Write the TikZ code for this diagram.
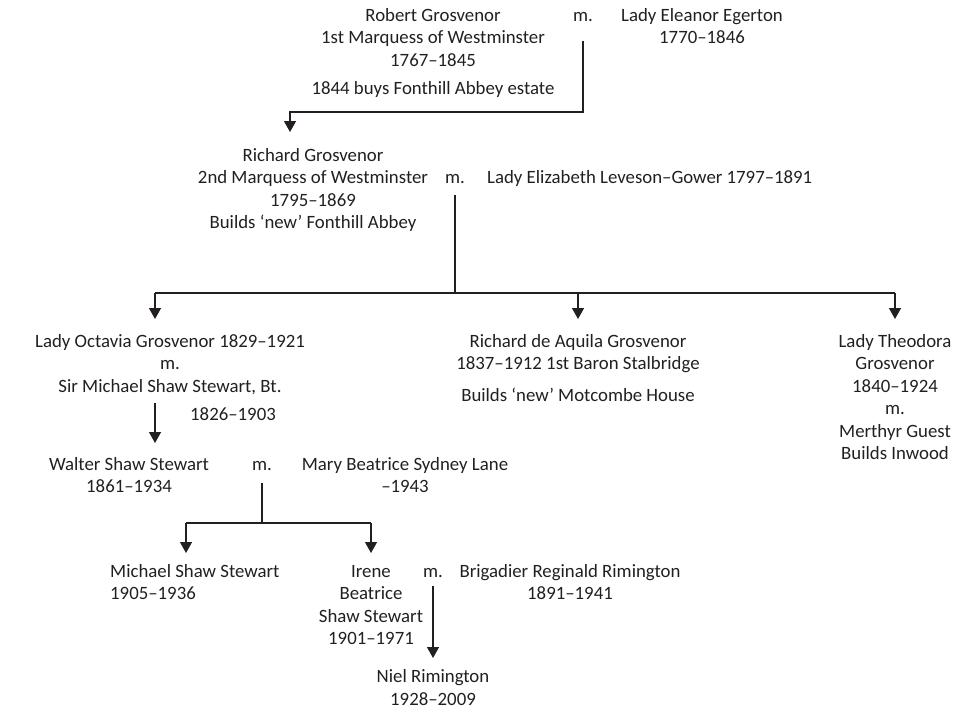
\documentclass[tikz,border=0pt]{standalone}
\usepackage{fontspec}
\setmainfont{Carlito}
\usetikzlibrary{arrows.meta}
\definecolor{ink}{HTML}{231F20}
\newcommand\fl{\rule{0pt}{16pt}}
\begin{document}
\begin{tikzpicture}[x=1pt,y=-1pt,
  txt/.style={anchor=north, inner sep=0pt, align=center, text=ink,
    font=\fontsize{18.8}{22.5}\selectfont},
  link/.style={draw=ink, line width=1.3pt},
  desc/.style={link, -{Triangle[length=11pt,width=12pt]}}]
\useasboundingbox (0,0) rectangle (956,709);

% generation 1
\node[txt] (robert) at (433,5) {\fl Robert Grosvenor\\1st Marquess of Westminster\\1767--1845\\[6pt]1844 buys Fonthill Abbey estate};
\node[txt] (m1) at (583,5) {\fl m.};
\node[txt] (eleanor) at (702,5) {\fl Lady Eleanor Egerton\\1770--1846};

% generation 2
\node[txt] (richard) at (313,145) {\fl Richard Grosvenor\\2nd Marquess of Westminster\\1795--1869\\Builds `new' Fonthill Abbey};
\node[txt] (m2) at (455,167) {\fl m.};
\node[txt, anchor=north west] (elizabeth) at (487,167) {\fl Lady Elizabeth Leveson--Gower 1797--1891};

% generation 3
\node[txt] (octavia) at (170,331) {\fl Lady Octavia Grosvenor 1829--1921\\m.\\Sir Michael Shaw Stewart, Bt.};
\node[txt] (michaelsr) at (233,404) {\fl 1826--1903};
\node[txt] (aquila) at (578,331) {\fl Richard de Aquila Grosvenor\\1837--1912 1st Baron Stalbridge\\[9.5pt]Builds `new' Motcombe House};
\node[txt] (theodora) at (895,331) {\fl Lady Theodora\\Grosvenor\\1840--1924\\m.\\Merthyr Guest\\Builds Inwood};

% generation 4
\node[txt] (walter) at (129,454) {\fl Walter Shaw Stewart\\1861--1934};
\node[txt] (m3) at (262,454) {\fl m.};
\node[txt] (mary) at (405,454) {\fl Mary Beatrice Sydney Lane\\--1943};

% generation 5
\node[txt, anchor=north west, align=left] (michael) at (110,561) {\fl Michael Shaw Stewart\\1905--1936};
\node[txt] (irene) at (371,561) {\fl Irene\\Beatrice\\Shaw Stewart\\1901--1971};
\node[txt] (m4) at (433,561) {\fl m.};
\node[txt] (reginald) at (570,561) {\fl Brigadier Reginald Rimington\\1891--1941};

% generation 6
\node[txt] (niel) at (433,666.5) {\fl Niel Rimington\\1928--2009};

% junction points of the connectors
\coordinate (j1) at (290,112);
\coordinate (k1) at (290,132);
\coordinate (j2) at (455,293);
\coordinate (b2l) at (155,293);
\coordinate (b2r) at (895,293);
\coordinate (k21) at (155,319);
\coordinate (k22) at (578,293);
\coordinate (k22t) at (578,319);
\coordinate (k23) at (895,319);
\coordinate (o1) at (155,403);
\coordinate (k3) at (155,443);
\coordinate (j4) at (262,523);
\coordinate (b4l) at (186,523);
\coordinate (b4r) at (371,523);
\coordinate (k41) at (186,553);
\coordinate (k42) at (371,553);
\coordinate (k5) at (433,658);

% descent lines
\draw[desc] ([yshift=-19pt]m1.south) |- (j1) -- (k1);
\draw[link] ([yshift=-11pt]m2.south) -- (j2);
\draw[link] (b2l) -- (b2r);
\draw[desc] (b2l) -- (k21);
\draw[desc] (k22) -- (k22t);
\draw[desc] (b2r) -- (k23);
\draw[desc] (o1) -- (k3);
\draw[link] ([yshift=-12pt]m3.south) -- (j4);
\draw[link] (b4l) -- (b4r);
\draw[desc] (b4l) -- (k41);
\draw[desc] (b4r) -- (k42);
\draw[desc] ([yshift=-8pt]m4.south) -- (k5);
\end{tikzpicture}
\end{document}
